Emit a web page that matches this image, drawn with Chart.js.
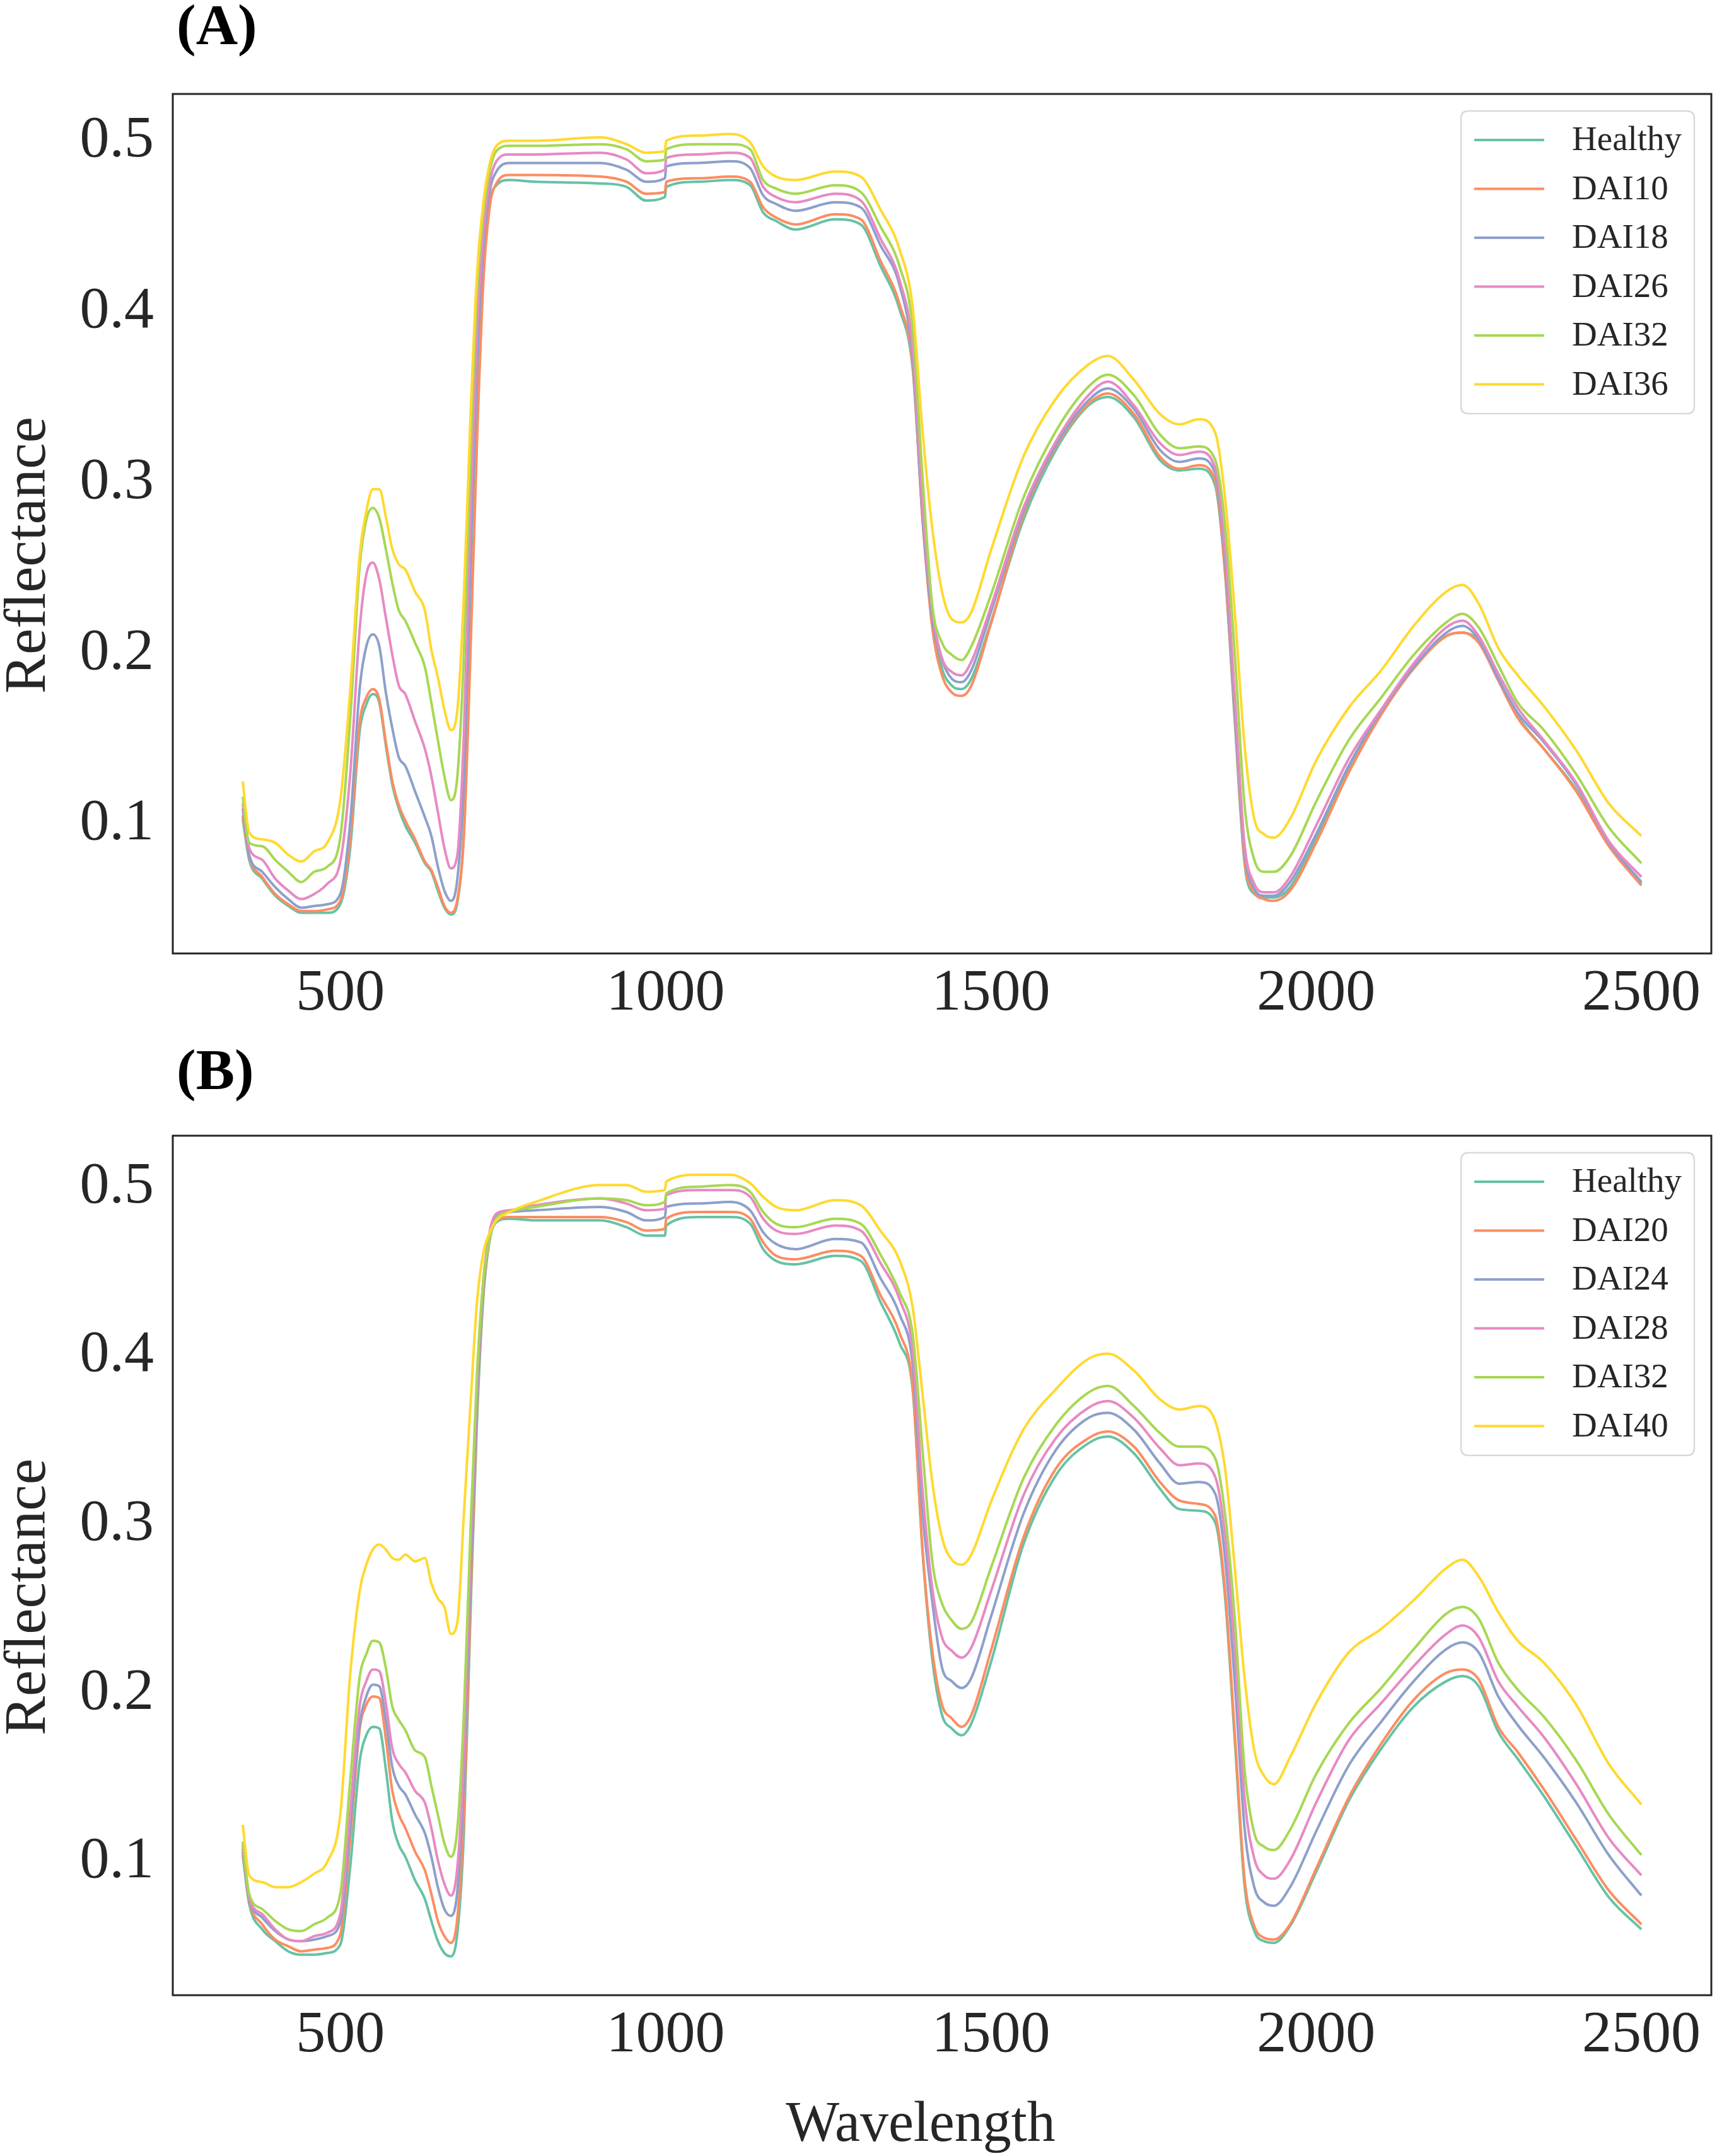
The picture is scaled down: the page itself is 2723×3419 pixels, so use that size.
<!DOCTYPE html>
<html><head><meta charset="utf-8">
<script src="https://cdn.jsdelivr.net/npm/chart.js@4.4.0/dist/chart.umd.min.js"></script>
<style>
html,body{margin:0;padding:0;background:#fff;}
body{width:2723px;height:3419px;position:relative;overflow:hidden;}
canvas{position:absolute;left:0;}
</style></head><body>
<canvas id="cA" width="2723" height="1700" style="top:0;width:2723px;height:1700px"></canvas>
<canvas id="cB" width="2723" height="1819" style="top:1600px;width:2723px;height:1819px"></canvas>
<script>
const wavelengths = [350,360,380,400,420,440,460,480,500,515,
 530,540,550,560,570,580,590,600,615,630,
 640,650,660,670,680,690,700,710,720,730,
 740,760,800,900,940,970,999,1001,1050,1100,
 1130,1150,1170,1200,1260,1300,1330,1360,1380,1395,
 1410,1425,1440,1455,1470,1500,1550,1600,1650,1680,
 1720,1760,1790,1820,1845,1860,1875,1890,1905,1920,
 1935,1960,2000,2050,2100,2150,2200,2225,2250,2280,
 2310,2350,2400,2450,2500];
const xTicks = [500,1000,1500,2000,2500];
const yTicks = [0.1,0.2,0.3,0.4,0.5];
const labelsA = ['Healthy','DAI10','DAI18','DAI26','DAI32','DAI36'];
const labelsB = ['Healthy','DAI20','DAI24','DAI28','DAI32','DAI40'];
const colors = ['#66c2a5','#fc8d62','#8da0cb','#e78ac3','#a6d854','#ffd92f'];

// Panel A
const healthyA = [0.103,0.079,0.068,0.058,0.052,0.048,0.048,0.048,0.053,0.085,
 0.155,0.170,0.176,0.171,0.146,0.123,0.109,0.099,0.089,0.077,
 0.072,0.061,0.051,0.047,0.054,0.096,0.206,0.331,0.423,0.464,
 0.474,0.477,0.476,0.475,0.473,0.465,0.467,0.473,0.476,0.477,
 0.474,0.458,0.453,0.448,0.454,0.451,0.427,0.401,0.366,0.280,
 0.220,0.191,0.181,0.179,0.185,0.218,0.278,0.319,0.345,0.350,
 0.338,0.313,0.307,0.308,0.298,0.247,0.160,0.077,0.059,0.057,
 0.057,0.063,0.092,0.133,0.166,0.192,0.210,0.212,0.207,0.185,
 0.163,0.144,0.120,0.088,0.065];
const dai10A = [0.105,0.081,0.069,0.059,0.053,0.049,0.049,0.050,0.055,0.090,
 0.160,0.174,0.179,0.173,0.148,0.125,0.111,0.102,0.091,0.078,
 0.073,0.063,0.052,0.048,0.056,0.093,0.199,0.322,0.418,0.462,
 0.475,0.480,0.480,0.479,0.476,0.469,0.470,0.476,0.478,0.479,
 0.476,0.461,0.455,0.451,0.457,0.454,0.430,0.404,0.368,0.278,
 0.215,0.187,0.177,0.175,0.181,0.217,0.281,0.321,0.346,0.352,
 0.340,0.315,0.308,0.310,0.301,0.248,0.164,0.079,0.060,0.056,
 0.055,0.061,0.089,0.130,0.164,0.191,0.210,0.212,0.206,0.184,
 0.162,0.144,0.119,0.087,0.064];
const dai18A = [0.109,0.082,0.072,0.063,0.056,0.051,0.052,0.053,0.059,0.100,
 0.180,0.204,0.211,0.204,0.177,0.156,0.139,0.134,0.119,0.104,
 0.093,0.075,0.061,0.055,0.068,0.125,0.252,0.368,0.439,0.471,
 0.482,0.487,0.487,0.487,0.483,0.476,0.478,0.485,0.487,0.488,
 0.484,0.468,0.463,0.459,0.464,0.461,0.439,0.415,0.372,0.280,
 0.220,0.196,0.185,0.183,0.190,0.224,0.283,0.322,0.348,0.355,
 0.343,0.319,0.312,0.314,0.305,0.255,0.167,0.084,0.062,0.058,
 0.058,0.066,0.094,0.134,0.166,0.192,0.212,0.216,0.208,0.185,
 0.165,0.148,0.123,0.089,0.066];
const dai26A = [0.112,0.086,0.079,0.068,0.061,0.056,0.059,0.065,0.078,0.128,
 0.215,0.246,0.253,0.243,0.221,0.199,0.181,0.176,0.160,0.144,
 0.128,0.107,0.086,0.074,0.082,0.153,0.280,0.386,0.446,0.476,
 0.488,0.492,0.492,0.493,0.489,0.481,0.483,0.490,0.492,0.493,
 0.490,0.473,0.467,0.464,0.469,0.465,0.443,0.418,0.378,0.286,
 0.225,0.197,0.189,0.187,0.195,0.227,0.285,0.324,0.351,0.359,
 0.345,0.323,0.316,0.318,0.308,0.261,0.174,0.088,0.065,0.060,
 0.060,0.069,0.099,0.138,0.167,0.194,0.215,0.219,0.210,0.188,
 0.168,0.149,0.124,0.090,0.069];
const dai32A = [0.116,0.089,0.087,0.079,0.072,0.066,0.072,0.075,0.092,0.160,
 0.252,0.278,0.285,0.279,0.261,0.241,0.225,0.219,0.206,0.192,
 0.171,0.149,0.128,0.114,0.128,0.199,0.315,0.411,0.458,0.483,
 0.494,0.497,0.497,0.498,0.495,0.488,0.489,0.495,0.498,0.498,
 0.495,0.477,0.472,0.469,0.474,0.470,0.450,0.426,0.390,0.303,
 0.228,0.206,0.199,0.196,0.204,0.234,0.291,0.330,0.356,0.363,
 0.351,0.328,0.320,0.321,0.313,0.275,0.199,0.111,0.079,0.072,
 0.072,0.081,0.113,0.149,0.174,0.199,0.218,0.223,0.215,0.193,
 0.171,0.155,0.129,0.098,0.077];
const dai36A = [0.125,0.095,0.091,0.089,0.082,0.078,0.084,0.089,0.114,0.177,
 0.258,0.283,0.296,0.296,0.280,0.261,0.252,0.249,0.236,0.225,
 0.202,0.186,0.167,0.155,0.167,0.234,0.337,0.421,0.464,0.487,
 0.497,0.500,0.500,0.502,0.498,0.493,0.494,0.500,0.503,0.504,
 0.499,0.485,0.479,0.477,0.482,0.479,0.460,0.436,0.402,0.330,
 0.273,0.236,0.220,0.218,0.224,0.260,0.315,0.349,0.369,0.374,
 0.360,0.340,0.334,0.337,0.329,0.291,0.224,0.146,0.103,0.094,
 0.092,0.103,0.137,0.168,0.190,0.216,0.236,0.240,0.229,0.203,
 0.187,0.169,0.143,0.112,0.093];

// Panel B
const healthyB = [0.104,0.075,0.060,0.053,0.047,0.045,0.045,0.046,0.051,0.096,
 0.160,0.175,0.180,0.179,0.155,0.124,0.110,0.103,0.089,0.078,
 0.065,0.053,0.046,0.044,0.058,0.117,0.245,0.360,0.435,0.469,
 0.479,0.481,0.480,0.480,0.476,0.471,0.471,0.477,0.482,0.482,
 0.478,0.463,0.456,0.454,0.459,0.456,0.432,0.407,0.379,0.284,
 0.220,0.187,0.179,0.175,0.182,0.218,0.288,0.329,0.348,0.352,
 0.342,0.321,0.309,0.308,0.301,0.257,0.172,0.086,0.059,0.053,
 0.052,0.062,0.094,0.136,0.167,0.192,0.207,0.210,0.204,0.177,
 0.161,0.139,0.109,0.079,0.060];
const dai20B = [0.106,0.077,0.063,0.054,0.050,0.047,0.048,0.049,0.057,0.113,
 0.179,0.193,0.198,0.197,0.173,0.142,0.128,0.120,0.106,0.095,
 0.081,0.065,0.056,0.052,0.067,0.128,0.253,0.367,0.438,0.470,
 0.480,0.482,0.482,0.482,0.479,0.474,0.475,0.481,0.485,0.485,
 0.481,0.467,0.459,0.457,0.462,0.459,0.436,0.413,0.381,0.285,
 0.225,0.193,0.185,0.180,0.187,0.225,0.292,0.333,0.351,0.355,
 0.346,0.325,0.314,0.312,0.305,0.261,0.176,0.090,0.062,0.055,
 0.054,0.063,0.096,0.138,0.170,0.196,0.212,0.214,0.208,0.180,
 0.165,0.143,0.113,0.083,0.063];
const dai24B = [0.108,0.078,0.067,0.059,0.054,0.053,0.054,0.056,0.064,0.120,
 0.182,0.198,0.205,0.204,0.184,0.156,0.145,0.140,0.128,0.117,
 0.103,0.085,0.072,0.068,0.083,0.149,0.267,0.372,0.442,0.473,
 0.483,0.485,0.486,0.488,0.485,0.480,0.482,0.488,0.490,0.491,
 0.486,0.473,0.466,0.463,0.469,0.467,0.446,0.424,0.394,0.307,
 0.254,0.215,0.207,0.203,0.209,0.245,0.306,0.344,0.363,0.366,
 0.356,0.336,0.324,0.325,0.318,0.280,0.206,0.120,0.085,0.076,
 0.074,0.085,0.118,0.157,0.183,0.207,0.226,0.230,0.224,0.198,
 0.181,0.162,0.135,0.104,0.080];
const dai28B = [0.110,0.079,0.069,0.060,0.054,0.053,0.056,0.058,0.069,0.129,
 0.193,0.207,0.214,0.213,0.194,0.167,0.158,0.153,0.142,0.135,
 0.120,0.101,0.087,0.080,0.097,0.163,0.281,0.381,0.445,0.474,
 0.484,0.486,0.489,0.493,0.490,0.486,0.487,0.495,0.498,0.498,
 0.494,0.481,0.474,0.472,0.477,0.474,0.455,0.433,0.402,0.320,
 0.262,0.233,0.225,0.221,0.227,0.260,0.317,0.351,0.369,0.373,
 0.363,0.345,0.335,0.336,0.328,0.293,0.226,0.138,0.102,0.092,
 0.090,0.101,0.135,0.172,0.194,0.216,0.235,0.240,0.233,0.207,
 0.192,0.174,0.146,0.114,0.092];
const dai32B = [0.112,0.081,0.072,0.065,0.060,0.059,0.063,0.067,0.081,0.147,
 0.210,0.223,0.231,0.230,0.215,0.192,0.184,0.178,0.166,0.162,
 0.145,0.128,0.111,0.103,0.120,0.188,0.295,0.388,0.445,0.470,
 0.481,0.485,0.488,0.493,0.492,0.489,0.491,0.496,0.500,0.501,
 0.497,0.485,0.478,0.476,0.481,0.478,0.460,0.437,0.412,0.344,
 0.278,0.253,0.243,0.238,0.242,0.274,0.327,0.359,0.378,0.382,
 0.370,0.354,0.346,0.346,0.339,0.306,0.244,0.155,0.117,0.109,
 0.107,0.119,0.152,0.182,0.203,0.226,0.247,0.251,0.244,0.218,
 0.202,0.186,0.160,0.128,0.104];
const dai40B = [0.122,0.092,0.088,0.085,0.085,0.088,0.093,0.100,0.128,0.210,
 0.261,0.276,0.285,0.288,0.285,0.280,0.279,0.282,0.278,0.280,
 0.265,0.256,0.251,0.235,0.242,0.306,0.370,0.431,0.461,0.473,
 0.480,0.485,0.491,0.501,0.501,0.497,0.498,0.503,0.507,0.507,
 0.502,0.494,0.488,0.486,0.492,0.489,0.474,0.456,0.428,0.377,
 0.325,0.292,0.279,0.276,0.282,0.313,0.356,0.380,0.398,0.401,
 0.391,0.374,0.368,0.370,0.361,0.333,0.274,0.209,0.166,0.151,
 0.146,0.162,0.194,0.224,0.238,0.255,0.274,0.279,0.269,0.248,
 0.231,0.218,0.193,0.158,0.134];

const FONT = '"Liberation Serif", "Times New Roman", serif';
const TEXT = '#262626';

const panelPlugin = {
  id: 'panel',
  afterDatasetsDraw(chart, args, opts) {
    const ctx = chart.ctx, ca = chart.chartArea;
    ctx.save();
    // axes frame
    ctx.strokeStyle = '#262626';
    ctx.lineWidth = 3;
    ctx.strokeRect(ca.left, ca.top, ca.right - ca.left, ca.bottom - ca.top);
    // legend box
    const bw = 370, bh = 480, r = 12;
    const bx = ca.right - 27 - bw, by = ca.top + 27;
    ctx.beginPath();
    ctx.moveTo(bx + r, by);
    ctx.lineTo(bx + bw - r, by); ctx.quadraticCurveTo(bx + bw, by, bx + bw, by + r);
    ctx.lineTo(bx + bw, by + bh - r); ctx.quadraticCurveTo(bx + bw, by + bh, bx + bw - r, by + bh);
    ctx.lineTo(bx + r, by + bh); ctx.quadraticCurveTo(bx, by + bh, bx, by + bh - r);
    ctx.lineTo(bx, by + r); ctx.quadraticCurveTo(bx, by, bx + r, by);
    ctx.closePath();
    ctx.fillStyle = 'rgba(255,255,255,0.8)';
    ctx.fill();
    ctx.strokeStyle = '#d9d9d9';
    ctx.lineWidth = 2.5;
    ctx.stroke();
    chart.data.datasets.forEach((ds, i) => {
      const y = by + 46 + i * 77.5;
      ctx.strokeStyle = ds.borderColor;
      ctx.lineWidth = 4;
      ctx.beginPath(); ctx.moveTo(bx + 21, y); ctx.lineTo(bx + 132, y); ctx.stroke();
      ctx.fillStyle = TEXT;
      ctx.font = '55px ' + FONT;
      ctx.textBaseline = 'middle';
      ctx.textAlign = 'left';
      ctx.fillText(ds.label, bx + 176, y + 2);
    });
    // panel letter
    ctx.fillStyle = '#000';
    ctx.font = 'bold 92px ' + FONT;
    ctx.textBaseline = 'alphabetic';
    ctx.textAlign = 'left';
    ctx.fillText(opts.letter, 280, ca.top - opts.letterGap);
    // y-axis title
    ctx.fillStyle = TEXT;
    ctx.font = '93px ' + FONT;
    ctx.textAlign = 'center';
    ctx.textBaseline = 'alphabetic';
    ctx.save();
    ctx.translate(71, (ca.top + ca.bottom) / 2 + 50);
    ctx.rotate(-Math.PI / 2);
    ctx.fillText(opts.yTitle, 0, 0);
    ctx.restore();
    // x-axis title
    if (opts.xTitle) {
      ctx.font = '90px ' + FONT;
      ctx.textAlign = 'center';
      ctx.fillText(opts.xTitle, 1460, ca.bottom + 231);
    }
    ctx.restore();
  }
};

function makeChart(id, labels, series, yMin, yMax, padTop, xAxisH, letter, letterGap, xTitle) {
  const datasets = series.map((vals, i) => ({
    label: labels[i],
    data: vals.map((v, j) => ({x: wavelengths[j], y: v})),
    borderColor: colors[i],
    backgroundColor: colors[i],
    borderWidth: 4,
    pointRadius: 0,
    fill: false,
    cubicInterpolationMode: 'monotone',
    order: series.length - 1 - i
  }));
  return new Chart(document.getElementById(id), {
    type: 'line',
    data: {datasets},
    options: {
      responsive: false, animation: false, devicePixelRatio: 1,
      events: [],
      layout: {padding: {left: 0, right: 9, top: padTop, bottom: 0}},
      plugins: {legend: {display: false}, tooltip: {enabled: false},
                panel: {letter, letterGap, yTitle: 'Reflectance', xTitle}},
      scales: {
        x: {
          type: 'linear', min: 242.5, max: 2607.5,
          grid: {display: false, drawTicks: false}, border: {display: false},
          afterBuildTicks: s => { s.ticks = xTicks.map(v => ({value: v})); },
          afterFit: s => { s.height = xAxisH; },
          ticks: {padding: 8, color: TEXT, autoSkip: false, maxRotation: 0,
                  font: {family: FONT, size: 94}, callback: v => String(v)}
        },
        y: {
          type: 'linear', min: yMin, max: yMax,
          grid: {display: false, drawTicks: false}, border: {display: false},
          afterBuildTicks: s => { s.ticks = yTicks.map(v => ({value: v})); },
          afterFit: s => { s.width = 274; },
          ticks: {padding: 30, color: TEXT, font: {family: FONT, size: 94},
                  callback: v => v.toFixed(1)}
        }
      }
    },
    plugins: [panelPlugin]
  });
}

function build() {
  makeChart('cA', labelsA, [healthyA, dai10A, dai18A, dai26A, dai32A, dai36A],
            0.0242, 0.5274, 149, 188, '(A)', 79, null);
  makeChart('cB', labelsB, [healthyB, dai20B, dai24B, dai28B, dai32B, dai40B],
            0.0210, 0.5302, 201, 255, '(B)', 74, 'Wavelength');
}
if (document.fonts && document.fonts.load) {
  Promise.all([document.fonts.load('94px "Liberation Serif"'), document.fonts.load('bold 92px "Liberation Serif"')])
    .then(build, build);
} else { build(); }
</script>
</body></html>
